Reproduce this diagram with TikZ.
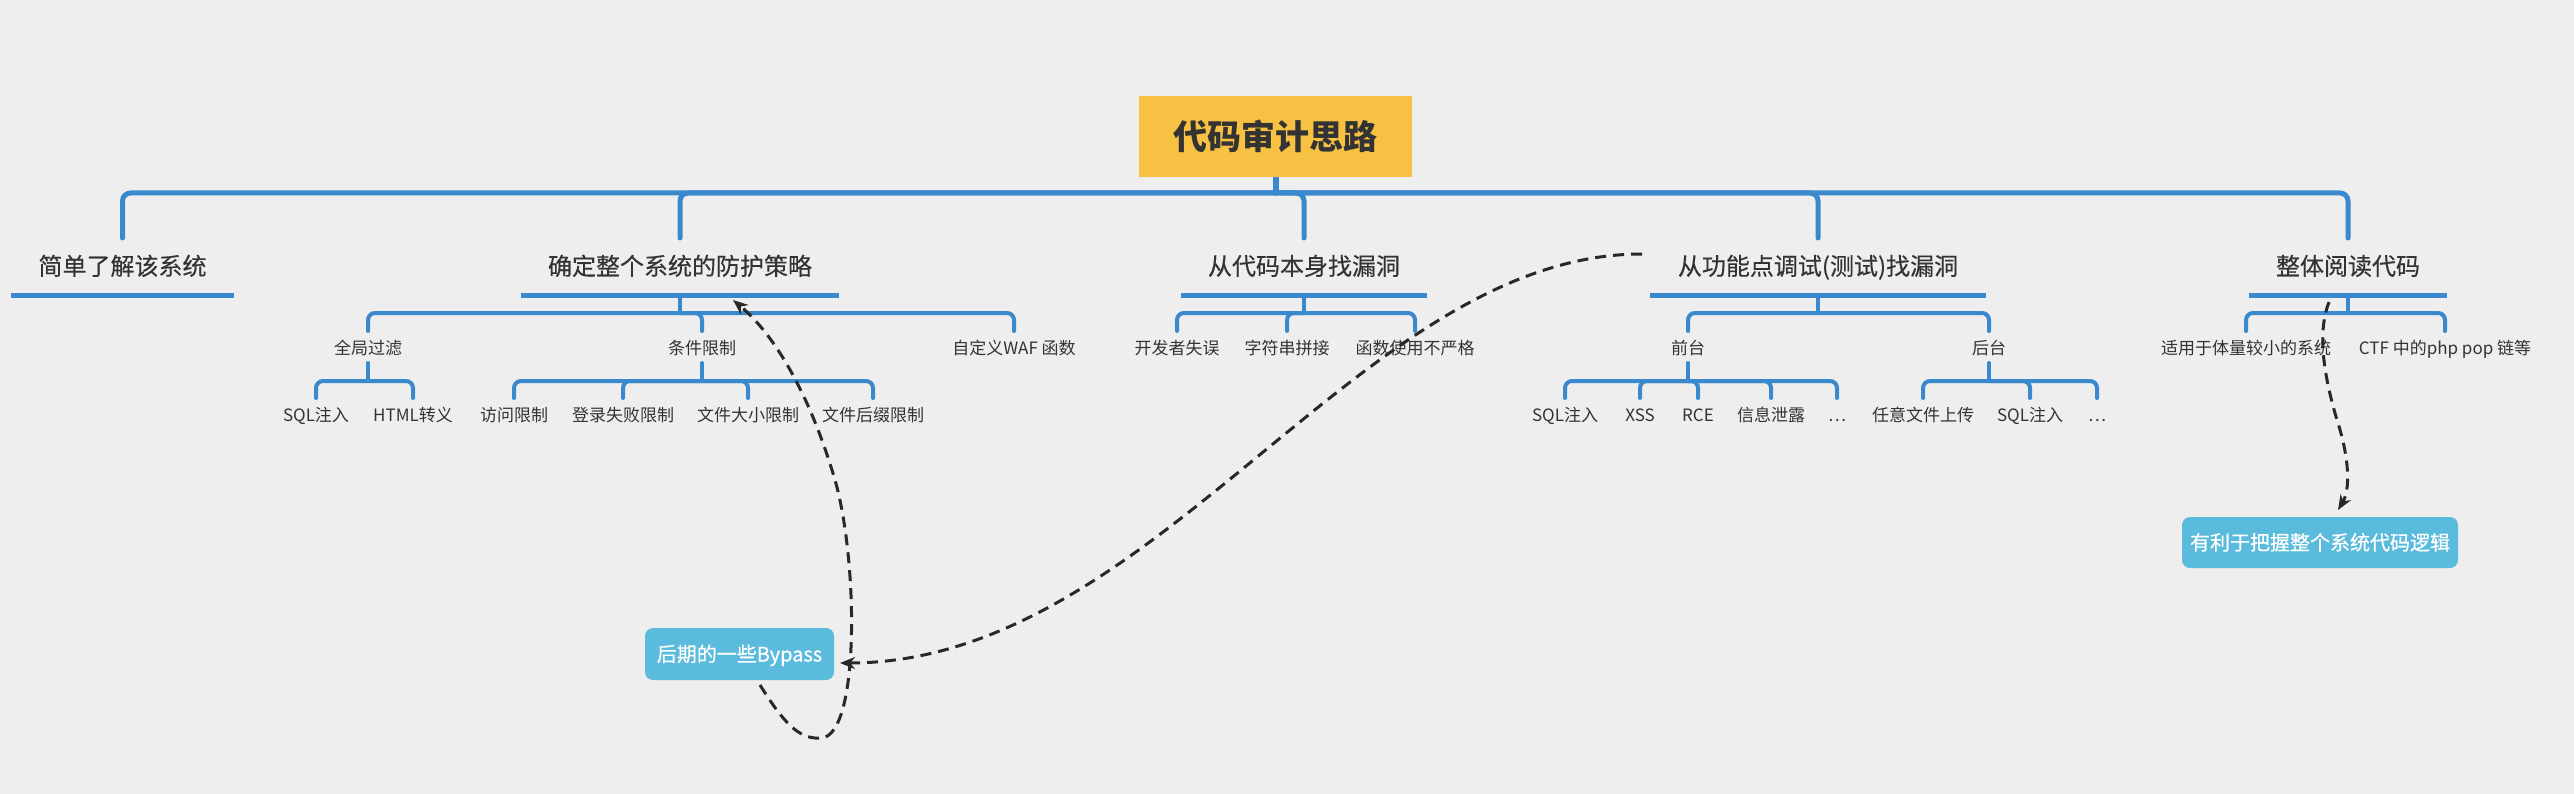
\documentclass[tikz,border=0pt]{standalone}
\usepackage{fontspec}
\setmainfont{Noto Sans CJK SC}
\newfontfamily\medfont{Noto Sans CJK SC}[FakeBold=0.5]
\newfontfamily\semifont{Noto Sans CJK SC}[FakeBold=0.3]
\usetikzlibrary{arrows.meta}
\definecolor{bgc}{RGB}{238,238,238}
\definecolor{linec}{RGB}{58,136,205}
\definecolor{rootc}{RGB}{247,193,67}
\definecolor{callc}{RGB}{91,187,220}
\definecolor{txtc}{RGB}{51,51,51}
\definecolor{dashc}{RGB}{40,40,40}
\begin{document}
\begin{tikzpicture}[x=1pt,y=-1pt,
  rootbox/.style={fill=rootc, minimum width=273pt, minimum height=81pt, inner sep=0pt,
    font=\fontsize{34}{40}\selectfont\bfseries, text=txtc, text height=30pt, text depth=4pt},
  lvone/.style={font=\fontsize{24}{28}\selectfont\semifont, text=txtc, inner sep=0pt,
    text height=21pt, text depth=3pt},
  lvtwo/.style={font=\fontsize{17}{20}\selectfont, text=txtc, inner sep=0pt,
    text height=15pt, text depth=2pt},
  callbox/.style={fill=callc, rounded corners=8pt, text=white, inner sep=0pt,
    font=\fontsize{20}{24}\selectfont\medfont, text height=17.5pt, text depth=2.5pt},
  trunkline/.style={draw=linec, line width=5pt, rounded corners=8pt, line cap=round},
  subline/.style={draw=linec, line width=4pt, rounded corners=7pt, line cap=round},
  uline/.style={draw=linec, line width=5pt},
  dashline/.style={draw=dashc, line width=3pt, dash pattern=on 11pt off 7pt,
    -{Stealth[length=15pt,width=12pt]}}
]
\fill[bgc] (0,0) rectangle (2574,794);
\useasboundingbox (0,0) rectangle (2574,794);

% level rows
\coordinate (b1) at (0,193);
\coordinate (v1) at (0,238);
\coordinate (u1) at (0,295);
\coordinate (b2) at (0,313);
\coordinate (v2) at (0,331);
\coordinate (t2) at (0,363);
\coordinate (b3) at (0,381);
\coordinate (v3) at (0,398);

% root
\node[rootbox] (root) at (1275.5,136.5) {代码审计思路};

% level 1
\node[lvone, minimum width=223pt] (A) at (122.5,266) {简单了解该系统};
\node[lvone, minimum width=318pt] (B) at (680,266) {确定整个系统的防护策略};
\node[lvone, minimum width=246pt] (C) at (1304,266) {从代码本身找漏洞};
\node[lvone, minimum width=336pt] (D) at (1818,266) {从功能点调试(测试)找漏洞};
\node[lvone, minimum width=198pt] (E) at (2348,266) {整体阅读代码};

% level 2
\node[lvtwo] (B1) at (368,347.5) {全局过滤};
\node[lvtwo] (B2) at (702,347.5) {条件限制};
\node[lvtwo] (B3) at (1014,347.5) {自定义WAF 函数};
\node[lvtwo] (C1) at (1177,347.5) {开发者失误};
\node[lvtwo] (C2) at (1287,347.5) {字符串拼接};
\node[lvtwo] (C3) at (1415,347.5) {函数使用不严格};
\node[lvtwo] (D1) at (1688,347.5) {前台};
\node[lvtwo] (D2) at (1989,347.5) {后台};
\node[lvtwo] (E1) at (2246,347.5) {适用于体量较小的系统};
\node[lvtwo] (E2) at (2445,347.5) {CTF 中的php pop 链等};

% level 3
\node[lvtwo] (B1a) at (316,415) {SQL注入};
\node[lvtwo] (B1b) at (413,415) {HTML转义};
\node[lvtwo] (B2a) at (514,415) {访问限制};
\node[lvtwo] (B2b) at (623,415) {登录失败限制};
\node[lvtwo] (B2c) at (748,415) {文件大小限制};
\node[lvtwo] (B2d) at (873,415) {文件后缀限制};
\node[lvtwo] (D1a) at (1565,415) {SQL注入};
\node[lvtwo] (D1b) at (1640,415) {XSS};
\node[lvtwo] (D1c) at (1698,415) {RCE};
\node[lvtwo] (D1d) at (1771,415) {信息泄露};
\node[lvtwo] (D1e) at (1837,415) {…};
\node[lvtwo] (D2a) at (1923,415) {任意文件上传};
\node[lvtwo] (D2b) at (2030,415) {SQL注入};
\node[lvtwo] (D2c) at (2097,415) {…};

% callouts
\node[callbox, minimum width=189pt, minimum height=52pt] (bypass) at (739.5,654) {后期的一些Bypass};
\node[callbox, minimum width=276pt, minimum height=51pt] (logic) at (2320,542.5) {有利于把握整个系统代码逻辑};

% trunk
\draw[draw=linec, line width=6pt] (root.south) -- (root.south |- b1);
\foreach \c in {A,B,C,D,E}
  \draw[trunkline] (root.south |- b1) -- (\c |- b1) -- (\c |- v1);

% underlines
\foreach \c in {A,B,C,D,E}
  \draw[uline] (\c.west |- u1) -- (\c.east |- u1);

% level 2 connectors
\foreach \p in {B,C,D,E}
  \draw[subline] (\p |- u1) -- (\p |- b2);
\foreach \p/\c in {B/B1,B/B2,B/B3,C/C1,C/C2,C/C3,D/D1,D/D2,E/E1,E/E2}
  \draw[subline] (\p |- b2) -- (\c |- b2) -- (\c |- v2);

% level 3 connectors
\foreach \p in {B1,B2,D1,D2}
  \draw[subline] (\p |- t2) -- (\p |- b3);
\foreach \p/\c in {B1/B1a,B1/B1b,B2/B2a,B2/B2b,B2/B2c,B2/B2d,D1/D1a,D1/D1b,D1/D1c,D1/D1d,D1/D1e,D2/D2a,D2/D2b,D2/D2c}
  \draw[subline] (\p |- b3) -- (\c |- b3) -- (\c |- v3);

% dashed relations
\coordinate (s1) at (760,685);
\coordinate (e1) at (733,300);
\draw[dashline] (s1) .. controls (785,725) and (800,740) .. (822,738)
  .. controls (860,733) and (858,560) .. (835,480)
  .. controls (810,395) and (775,335) .. (e1);

\coordinate (s2) at (1642,254);
\coordinate (e2) at (840,663);
\draw[dashline] (s2) .. controls (1360,254) and (1157,663) .. (e2);

\coordinate (s3) at (2329,302);
\coordinate (e3) at (2338,510);
\draw[dashline] (s3) .. controls (2318,330) and (2322,370) .. (2337,420)
  .. controls (2350,460) and (2350,490) .. (e3);
\end{tikzpicture}
\end{document}
